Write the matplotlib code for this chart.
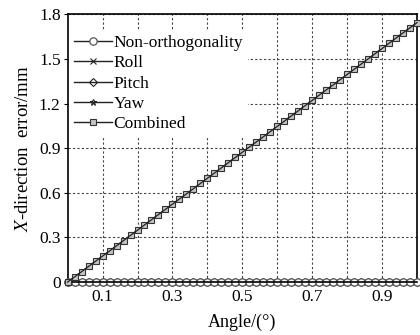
import numpy as np
import matplotlib
matplotlib.use("Agg")
from matplotlib import pyplot as plt
from matplotlib.ticker import FixedLocator, FixedFormatter

plt.rcParams['font.family'] = ['Liberation Serif', 'DejaVu Serif']
plt.rcParams['mathtext.fontset'] = 'stix'

# angle in degrees, step 0.02
angle = [0.00, 0.02, 0.04, 0.06, 0.08, 0.10, 0.12, 0.14, 0.16, 0.18, 0.20,
         0.22, 0.24, 0.26, 0.28, 0.30, 0.32, 0.34, 0.36, 0.38, 0.40,
         0.42, 0.44, 0.46, 0.48, 0.50, 0.52, 0.54, 0.56, 0.58, 0.60,
         0.62, 0.64, 0.66, 0.68, 0.70, 0.72, 0.74, 0.76, 0.78, 0.80,
         0.82, 0.84, 0.86, 0.88, 0.90, 0.92, 0.94, 0.96, 0.98, 1.00]

non_orth = [0.0] * len(angle)
roll = [0.0] * len(angle)
pitch = [0.0] * len(angle)
yaw = [0.0] * len(angle)
combined = [0.000, 0.035, 0.070, 0.105, 0.140, 0.175, 0.209, 0.244, 0.279, 0.314, 0.349,
            0.384, 0.419, 0.454, 0.489, 0.524, 0.559, 0.593, 0.628, 0.663, 0.698,
            0.733, 0.768, 0.803, 0.838, 0.873, 0.908, 0.942, 0.977, 1.012, 1.047,
            1.082, 1.117, 1.152, 1.187, 1.222, 1.257, 1.292, 1.326, 1.361, 1.396,
            1.431, 1.466, 1.501, 1.536, 1.571, 1.606, 1.641, 1.676, 1.710, 1.745]

x_ticks = [0.1, 0.2, 0.3, 0.4, 0.5, 0.6, 0.7, 0.8, 0.9]
x_labels = ['0.1', '', '0.3', '', '0.5', '', '0.7', '', '0.9']
y_ticks = [0, 0.3, 0.6, 0.9, 1.2, 1.5, 1.8]
y_labels = ['0', '0.3', '0.6', '0.9', '1.2', '1.5', '1.8']

FS = 12.5
LC = '#222222'

fig = plt.figure(figsize=(4.2, 3.35), dpi=100)
ax = fig.add_axes([0.161, 0.158, 0.832, 0.799])

ms = 5
ax.plot(angle, yaw, color=LC, lw=1, marker='*', ms=ms, mfc='none', mec=LC, mew=0.8,
        label='Yaw', zorder=3, clip_on=False)
ax.plot(angle, pitch, color=LC, lw=1, marker='D', ms=ms - 1, mfc='none', mec=LC, mew=0.8,
        label='Pitch', zorder=3, clip_on=False)
ax.plot(angle, roll, color=LC, lw=1, marker='x', ms=ms, mfc='none', mec=LC, mew=0.8,
        label='Roll', zorder=3, clip_on=False)
ax.plot(angle, non_orth, color=LC, lw=1, marker='o', ms=ms + 0.3, mfc='white', mec='#555555',
        mew=0.9, label='Non-orthogonality', zorder=4, clip_on=False)
ax.plot(angle, combined, color=LC, lw=1, marker='s', ms=ms, mfc='#c4c4c4', mec='#333333', mew=0.8,
        label='Combined', zorder=5, clip_on=False)
# line drawn again over the square markers, as in the original
ax.plot(angle, combined, color=LC, lw=0.9, zorder=6, clip_on=False)

ax.set_xlim(0, 1.0)
ax.set_ylim(0, 1.8)
ax.xaxis.set_major_locator(FixedLocator(x_ticks))
ax.xaxis.set_major_formatter(FixedFormatter(x_labels))
ax.yaxis.set_major_locator(FixedLocator(y_ticks))
ax.yaxis.set_major_formatter(FixedFormatter(y_labels))
ax.tick_params(direction='out', length=3, width=0.8, labelsize=FS, pad=2)
ax.grid(True, color='#444444', linestyle=(0, (2, 2)), linewidth=0.8)
ax.set_axisbelow(True)
for s in ax.spines.values():
    s.set_linewidth(1.2)
ax.spines['bottom'].set_zorder(4.5)

ax.set_xlabel('Angle/(°)', fontsize=FS + 0.5, labelpad=6)
ax.set_ylabel('$X$-direction  error/mm', fontsize=FS + 1, labelpad=5)

h, l = ax.get_legend_handles_labels()
order = [3, 2, 1, 0, 4]
leg = ax.legend([h[i] for i in order], [l[i] for i in order], loc='upper left',
                bbox_to_anchor=(-0.005, 0.953), fontsize=FS, handlelength=2.2,
                handletextpad=0.1, labelspacing=0.24, borderaxespad=0.2,
                borderpad=0.25, frameon=True, fancybox=False, framealpha=1,
                edgecolor='none')

fig.savefig('out.png', dpi=100)
